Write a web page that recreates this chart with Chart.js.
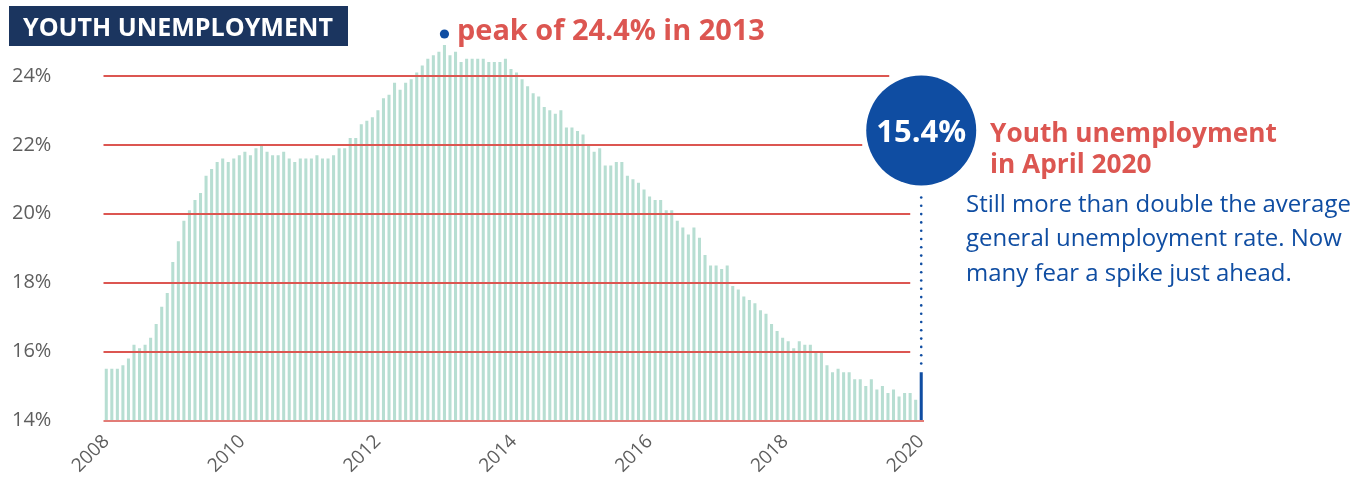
<!DOCTYPE html>
<html>
<head>
<meta charset="utf-8">
<script src="https://cdn.jsdelivr.net/npm/chart.js@4.4.1/dist/chart.umd.min.js"></script>
<style>
  html, body { margin: 0; padding: 0; background: #fff; }
  #wrap { position: relative; width: 1371px; height: 477px; }
</style>
</head>
<body>
<div id="wrap"><canvas id="chartCanvas" width="1371" height="477"></canvas></div>
<script>
// dữ liệu: thất nghiệp thanh niên theo tháng, 01/2008 -> 04/2020
const startYear = 2008;
const monthCount = 148;
const youthRate = [
  15.5, 15.5, 15.5, 15.6, 15.8, 16.2, 16.1, 16.2, 16.4, 16.8, 17.3, 17.7,
  18.6, 19.2, 19.8, 20.1, 20.4, 20.6, 21.1, 21.3, 21.5, 21.6, 21.5, 21.6,
  21.7, 21.8, 21.7, 21.9, 22.0, 21.8, 21.7, 21.7, 21.8, 21.6, 21.5, 21.6,
  21.6, 21.6, 21.7, 21.6, 21.6, 21.7, 21.9, 21.9, 22.2, 22.2, 22.6, 22.7,
  22.8, 23.0, 23.35, 23.45, 23.8, 23.6, 23.8, 23.9, 24.1, 24.3, 24.5, 24.6,
  24.7, 24.9, 24.6, 24.7, 24.4, 24.5, 24.5, 24.5, 24.5, 24.4, 24.4, 24.4,
  24.5, 24.2, 24.1, 23.9, 23.7, 23.5, 23.4, 23.1, 23.0, 22.9, 23.0, 22.5,
  22.5, 22.4, 22.3, 22.0, 21.8, 21.9, 21.4, 21.4, 21.5, 21.5, 21.1, 21.0,
  20.9, 20.7, 20.5, 20.4, 20.4, 20.1, 20.1, 19.8, 19.6, 19.4, 19.6, 19.3,
  18.8, 18.5, 18.5, 18.4, 18.5, 17.9, 17.8, 17.6, 17.5, 17.4, 17.2, 17.1,
  16.8, 16.6, 16.4, 16.3, 16.1, 16.3, 16.2, 16.2, 16.0, 16.0, 15.6, 15.4,
  15.5, 15.4, 15.4, 15.2, 15.2, 15.0, 15.2, 14.9, 15.0, 14.8, 14.9, 14.7,
  14.8, 14.8, 14.6, 15.4
];
const yearTicks = [2008, 2010, 2012, 2014, 2016, 2018, 2020];
const rateTicks = [14, 16, 18, 20, 22, 24];
const peakIndex = 61;
const titleText = "YOUTH UNEMPLOYMENT";
const peakText = "peak of 24.4% in 2013";
const latestText = "15.4%";
const headLines = ["Youth unemployment", "in April 2020"];
const bodyLines = ["Still more than double the average", "general unemployment rate. Now", "many fear a spike just ahead."];

const months = [];
for (let i = 0; i < monthCount; i++) {
  const y = startYear + Math.floor(i / 12);
  const m = (i % 12) + 1;
  months.push(y + "-" + String(m).padStart(2, "0"));
}

const MINT = "#b7ded2";
const BLUE = "#0f4da2";
const NAVY = "#1b355f";
const RED = "#dc5651";
const FONT = "'Open Sans', sans-serif";

// canh chữ theo bề rộng mong muốn
function fitFont(ctx, text, weight, width) {
  ctx.font = `${weight} 100px ${FONT}`;
  const size = 100 * width / ctx.measureText(text).width;
  ctx.font = `${weight} ${size}px ${FONT}`;
  return size;
}

const halfStep = (yearTicks[yearTicks.length - 1] - yearTicks[0]) / (monthCount - 1) / 2;

const decorPlugin = {
  id: "decor",
  afterDatasetsDraw(chart) {
    const ctx = chart.ctx;
    const xs = chart.scales.x, ys = chart.scales.y;
    const area = chart.chartArea;
    const cx = xs.getPixelForValue(monthCount - 1);

    // đường lưới đỏ
    ctx.save();
    rateTicks.forEach(v => {
      const y = Math.round(ys.getPixelForValue(v));
      let end = cx - 11;
      if (v === 24) end = cx - 32;
      if (v === 22) end = cx - 59;
      if (v === 14) end = area.right;
      ctx.strokeStyle = v === 14 ? "#e27c77" : RED;
      ctx.lineWidth = 2;
      ctx.beginPath();
      ctx.moveTo(area.left, y);
      ctx.lineTo(end, y);
      ctx.stroke();
    });
    ctx.restore();
  },
  afterDraw(chart) {
    const ctx = chart.ctx;
    const xs = chart.scales.x, ys = chart.scales.y;
    const cx = xs.getPixelForValue(monthCount - 1);
    ctx.save();

    // tiêu đề
    ctx.fillStyle = NAVY;
    ctx.fillRect(9, 6, 339, 40);
    ctx.fillStyle = "#fff";
    ctx.textBaseline = "alphabetic";
    fitFont(ctx, titleText, "bold", 310);
    ctx.fillText(titleText, 23, 36);

    // đỉnh
    const px = xs.getPixelForValue(peakIndex);
    ctx.fillStyle = BLUE;
    ctx.beginPath();
    ctx.arc(px, 34, 4.6, 0, Math.PI * 2);
    ctx.fill();
    ctx.fillStyle = RED;
    fitFont(ctx, peakText, "bold", 308);
    ctx.fillText(peakText, 457, 40);

    // vòng tròn giá trị mới nhất
    const cy = 130.5, r = 55;
    ctx.fillStyle = BLUE;
    ctx.beginPath();
    ctx.arc(cx, cy, r, 0, Math.PI * 2);
    ctx.fill();
    ctx.fillStyle = "#fff";
    fitFont(ctx, latestText, "bold", 90);
    ctx.textAlign = "center";
    ctx.fillText(latestText, cx, 141.5);
    ctx.textAlign = "left";

    // đường chấm
    const barTop = ys.getPixelForValue(youthRate[monthCount - 1]);
    ctx.fillStyle = BLUE;
    for (let y = cy + r + 12; y < barTop - 4; y += 8.3) {
      ctx.beginPath();
      ctx.arc(cx, y, 1.3, 0, Math.PI * 2);
      ctx.fill();
    }

    // chú thích bên phải
    ctx.fillStyle = RED;
    fitFont(ctx, headLines[0], "bold", 287);
    ctx.fillText(headLines[0], 990, 142);
    ctx.fillText(headLines[1], 990, 173);

    ctx.fillStyle = BLUE;
    fitFont(ctx, bodyLines[0], "normal", 385);
    bodyLines.forEach((t, i) => ctx.fillText(t, 966, 211.5 + i * 34.8));

    ctx.restore();
  }
};

const ctx = document.getElementById("chartCanvas").getContext("2d");
const chart = new Chart(ctx, {
  type: "bar",
  data: {
    labels: months,
    datasets: [{
      label: "Youth unemployment",
      data: youthRate,
      backgroundColor: youthRate.map((v, i) => i === monthCount - 1 ? BLUE : MINT),
      barPercentage: 0.55,
      categoryPercentage: 1,
      borderWidth: 0
    }]
  },
  options: {
    responsive: false,
    animation: false,
    layout: { padding: { left: 12, top: 38, right: 447, bottom: 0 } },
    plugins: { legend: { display: false }, tooltip: { enabled: false } },
    scales: {
      x: { type: "category", display: false, offset: true },
      xYear: {
        type: "linear",
        position: "bottom",
        offset: false,
        min: yearTicks[0] - halfStep,
        max: yearTicks[yearTicks.length - 1] + halfStep,
        afterBuildTicks: s => { s.ticks = yearTicks.map(v => ({ value: v })); },
        afterFit: s => { s.height = 56.5; },
        grid: { display: true, drawOnChartArea: false, drawTicks: true, tickLength: 6, tickColor: "rgba(0,0,0,0)" },
        border: { display: false },
        ticks: {
          minRotation: 45,
          maxRotation: 45,
          padding: 4,
          color: "#5e5e5e",
          font: { family: FONT, size: 19 },
          callback: v => String(v)
        }
      },
      y: {
        min: 14,
        max: 25.1,
        afterBuildTicks: s => { s.ticks = rateTicks.map(v => ({ value: v })); },
        afterFit: s => { s.width = 91.5; },
        grid: { display: false, drawTicks: false },
        border: { display: false },
        ticks: {
          crossAlign: "far",
          padding: 3,
          color: "#5e5e5e",
          font: { family: FONT, size: 20 },
          callback: v => v + "%"
        }
      }
    }
  },
  plugins: [decorPlugin]
});
</script>
</body>
</html>
